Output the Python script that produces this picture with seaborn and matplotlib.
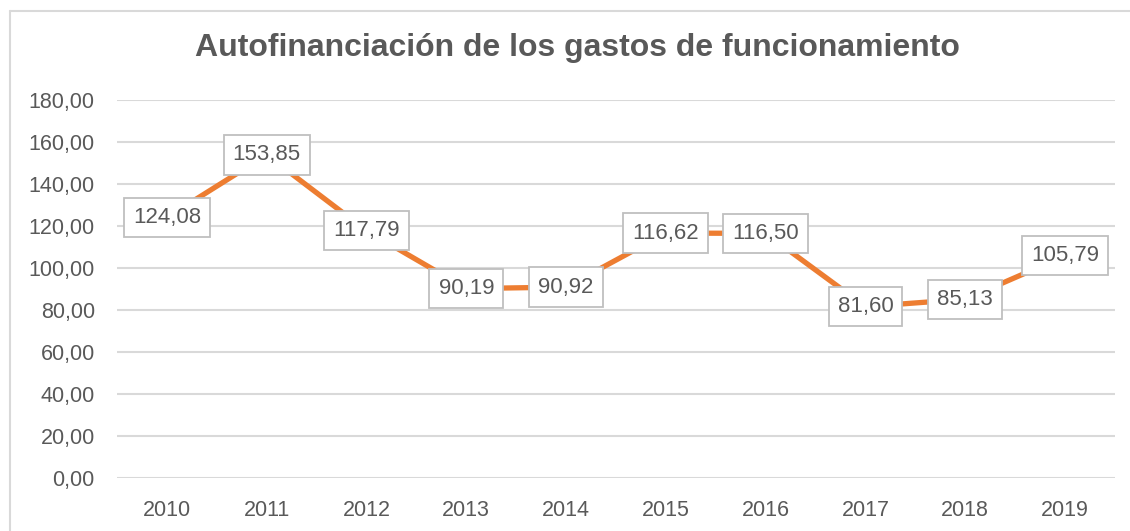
import matplotlib
matplotlib.use("Agg")
import matplotlib.pyplot as plt
import pandas as pd
import seaborn as sns
from matplotlib.lines import Line2D

years = ["2010", "2011", "2012", "2013", "2014", "2015", "2016", "2017", "2018", "2019"]
values = [124.08, 153.85, 117.79, 90.19, 90.92, 116.62, 116.50, 81.60, 85.13, 105.79]
yticks = [0, 20, 40, 60, 80, 100, 120, 140, 160, 180]

TEXT = "#595959"
GRID = "#d9d9d9"
ORANGE = "#ED7D31"

sns.set_theme(style="white")
plt.rcParams['font.family'] = ['Liberation Sans', 'DejaVu Sans']

df = pd.DataFrame({'year': years, 'value': values})

fig = plt.figure(figsize=(11.3, 5.31), dpi=100)
ax = fig.add_axes([117 / 1130, 1 - 478 / 531, (1115 - 117) / 1130, (478 - 100) / 531])

sns.lineplot(data=df, x='year', y='value', ax=ax, color=ORANGE, linewidth=3.8,
             sort=False, solid_capstyle='butt')

# value labels centred on the points
for i, v in enumerate(values):
    ax.text(i, v, ("%.2f" % v).replace(".", ","), ha='center', va='center',
            fontsize=16, color=TEXT, zorder=5,
            bbox=dict(boxstyle='square,pad=0.41', fc='white', ec='#bfbfbf', lw=1.3))

ax.set_xlim(-0.5, len(years) - 0.5)
ax.set_ylim(0, 180)
ax.set_yticks(yticks)
ax.set_yticklabels(["%d,00" % t for t in yticks])
ax.yaxis.grid(True, color=GRID, linewidth=1.5)
ax.set_axisbelow(True)
for s in ax.spines.values():
    s.set_visible(False)
ax.tick_params(axis='y', length=0, pad=16, labelsize=15.5, labelcolor=TEXT)
ax.tick_params(axis='x', length=0, pad=16, labelsize=15.5, labelcolor=TEXT)
ax.set_xlabel("")
ax.set_ylabel("")

fig.text(577 / 1130, 1 - 48 / 531, "Autofinanciación de los gastos de funcionamiento",
         ha='center', va='center', fontsize=23, fontweight='bold', color=TEXT)

# chart border (top and left visible)
fig.add_artist(Line2D([10 / 1130, 10 / 1130], [0, 1 - 11 / 531], transform=fig.transFigure,
                      color=GRID, linewidth=1.5))
fig.add_artist(Line2D([10 / 1130, 1], [1 - 11 / 531, 1 - 11 / 531], transform=fig.transFigure,
                      color=GRID, linewidth=1.5))

fig.savefig("out.png", dpi=100)
